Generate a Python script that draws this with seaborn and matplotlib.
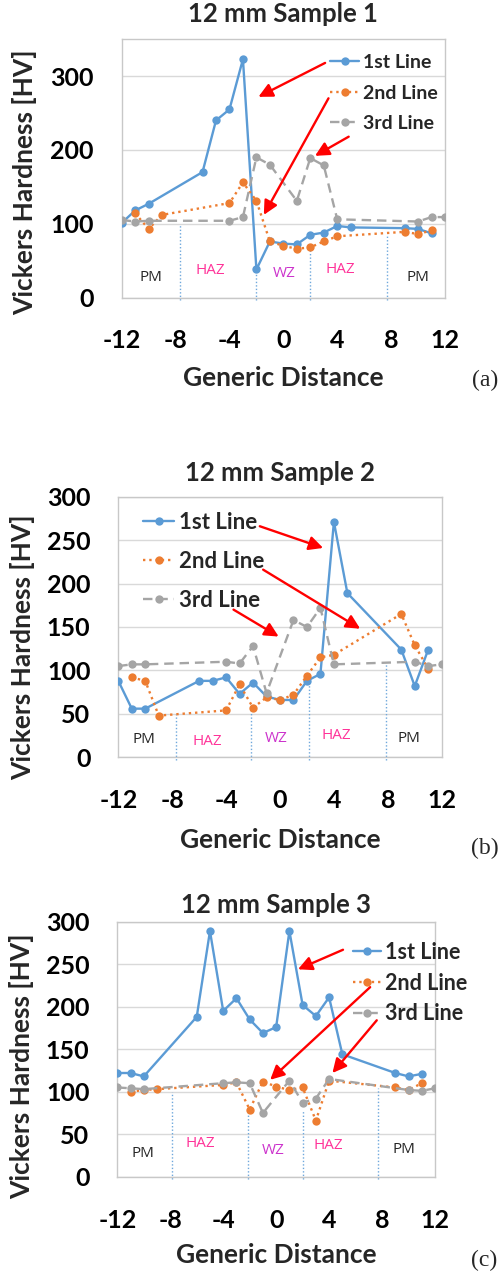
import matplotlib
matplotlib.use("Agg")
import matplotlib.pyplot as plt
import seaborn as sns
import pandas as pd

# ---------------- data ----------------
# Sample 1
a_x1 = [-12, -11, -10, -6, -5, -4, -3, -2, -1, 0, 1, 2, 3, 4, 5, 9, 10, 11]
a_hv1 = [101, 118, 127, 170, 240, 255, 323, 38, 76, 73, 72, 85, 88, 97, 95, 94, 93, 87]
a_x2 = [-11, -10, -9, -4, -3, -2, -1, 0, 1, 2, 3, 4, 9, 10, 11]
a_hv2 = [114, 93, 112, 128, 156, 131, 76, 70, 66, 68, 76, 83, 89, 86, 91]
a_x3 = [-12, -11, -10, -4, -3, -2, -1, 1, 2, 3, 4, 10, 11, 12]
a_hv3 = [105, 103, 104, 104, 109, 190, 180, 131, 189, 179, 106, 103, 109, 109]

# Sample 2
b_x1 = [-12, -11, -10, -6, -5, -4, -3, -2, -1, 0, 1, 2, 3, 4, 5, 9, 10, 11]
b_hv1 = [88, 56, 56, 88, 88, 92, 73, 86, 70, 66, 66, 88, 96, 271, 189, 124, 82, 124]
b_x2 = [-11, -10, -9, -4, -3, -2, -1, 0, 1, 2, 3, 4, 9, 10, 11]
b_hv2 = [92, 88, 48, 54, 84, 57, 69, 66, 72, 94, 115, 118, 165, 129, 102]
b_x3 = [-12, -11, -10, -4, -3, -2, -1, 1, 2, 3, 4, 10, 11, 12]
b_hv3 = [105, 107, 107, 110, 108, 128, 74, 158, 150, 172, 107, 110, 105, 107]

# Sample 3
c_x1 = [-12, -11, -10, -6, -5, -4, -3, -2, -1, 0, 1, 2, 3, 4, 5, 9, 10, 11]
c_hv1 = [122, 122, 118, 188, 289, 195, 210, 185, 169, 176, 289, 202, 189, 211, 144, 122, 118, 121]
c_x2 = [-11, -10, -9, -4, -3, -2, -1, 0, 1, 2, 3, 4, 9, 10, 11]
c_hv2 = [100, 102, 103, 108, 111, 79, 112, 106, 102, 105, 66, 113, 105, 102, 110]
c_x3 = [-12, -11, -10, -4, -3, -2, -1, 1, 2, 3, 4, 10, 11, 12]
c_hv3 = [105, 104, 103, 110, 111, 110, 75, 113, 87, 92, 115, 102, 101, 104]

series_names = ["1st Line", "2nd Line", "3rd Line"]
titles = ["12 mm Sample 1", "12 mm Sample 2", "12 mm Sample 3"]
panel_tags = ["(a)", "(b)", "(c)"]
x_ticks = [-12, -8, -4, 0, 4, 8, 12]
zone_names = ["PM", "HAZ", "WZ", "HAZ", "PM"]

# ---------------- styling ----------------
sns.set_theme(style="white")
plt.rcParams["font.family"] = ["Lato", "DejaVu Sans"]

BLUE, ORANGE, GRAY = "#5B9BD5", "#ED7D31", "#A5A5A5"
line_styles = [(BLUE, "-"), (ORANGE, ":"), (GRAY, (0, (4, 2.5)))]
zone_colors = ["#262626", "#FF3399", "#CC33CC", "#FF3399", "#262626"]

W, H = 499, 1277
fig = plt.figure(figsize=(W / 100, H / 100), dpi=100)


def px_axes(left, top, right, bottom):
    return fig.add_axes([left / W, 1 - bottom / H, (right - left) / W, (bottom - top) / H])


panels = [
    dict(box=(121.7, 39.3, 445, 297.5), ylim=350, ystep=100,
         data=[(a_x1, a_hv1), (a_x2, a_hv2), (a_x3, a_hv3)],
         sep_x=[-7.7, -2, 2, 7.7], sep_top=[100, 38, 64, 83],
         zone_pos=[(-9.8, 27), (-5.4, 37), (0.1, 33), (4.2, 38), (10.0, 27)],
         legend=dict(anchor=(330, 54), fs=14, spacing=0.7, hl=1.5),
         arrows=[((3.1, 318), (-1.85, 272)), ((3.35, 270), (-1.45, 112)), ((4.85, 218), (2.35, 192))],
         title_y=14, xlabel_y=378, ylabel=(25, 182), tag=(485, 380)),
    dict(box=(118.3, 496.7, 441.7, 757.3), ylim=300, ystep=50,
         data=[(b_x1, b_hv1), (b_x2, b_hv2), (b_x3, b_hv3)],
         sep_x=[-7.75, -2.15, 2.15, 7.85], sep_top=[50, 55, 83, 108],
         zone_pos=[(-10.1, 20), (-5.4, 18), (-0.25, 22), (4.2, 25), (9.6, 22)],
         legend=dict(anchor=(143, 512), fs=16, spacing=0.8, hl=1.4),
         arrows=[((-1.5, 266), (3.2, 241)), ((-1.25, 216), (5.95, 148)), ((-3.45, 170), (-0.1, 139))],
         title_y=473, xlabel_y=840, ylabel=(23, 647), tag=(485, 848)),
    dict(box=(117.3, 921.7, 435, 1176.7), ylim=300, ystep=50,
         data=[(c_x1, c_hv1), (c_x2, c_hv2), (c_x3, c_hv3)],
         sep_x=[-7.85, -2.15, 2.0, 7.7], sep_top=[100, 78, 78, 104],
         zone_pos=[(-10.1, 27), (-5.75, 39), (-0.2, 31), (3.95, 37), (9.65, 32)],
         legend=dict(anchor=(353, 942), fs=15.5, spacing=0.45, hl=1.3),
         arrows=[((5.05, 267), (1.65, 244)), ((7.1, 223), (-0.45, 114)), ((7.6, 184), (4.25, 122))],
         title_y=905, xlabel_y=1255, ylabel=(22, 1066), tag=(484, 1260)),
]

for i, p in enumerate(panels):
    L, T, R, B = p["box"]
    ax = px_axes(L, T, R, B)

    for (xs, ys), name, (col, ls) in zip(p["data"], series_names, line_styles):
        df = pd.DataFrame({"x": xs, "hv": ys})
        sns.lineplot(data=df, x="x", y="hv", ax=ax, color=col, linestyle=ls,
                     linewidth=1.7, marker="o", markersize=6, markeredgewidth=0,
                     label=name, zorder=3)

    # weld-zone separators
    for sx, st in zip(p["sep_x"], p["sep_top"]):
        ax.plot([sx, sx], [-3, st], color="#6FA8DC", linestyle=(0, (1, 1.5)),
                linewidth=1.0, clip_on=False, zorder=2)

    for (zx, zy), zn, zc in zip(p["zone_pos"], zone_names, zone_colors):
        ax.text(zx, zy, zn, color=zc, fontsize=11, ha="center", va="center",
                family=["Open Sans", "DejaVu Sans"])

    for start, end in p["arrows"]:
        ax.annotate("", xy=end, xytext=start,
                    arrowprops=dict(arrowstyle="-|>", color="#FF0000", lw=1.7,
                                    mutation_scale=21, shrinkA=0, shrinkB=0),
                    zorder=4)

    ax.set_xlim(-12, 12)
    ax.set_ylim(0, p["ylim"])
    ax.set_xticks(x_ticks)
    ax.set_yticks(range(0, p["ylim"] + 1, p["ystep"]))
    ax.set_xticklabels([str(t) for t in x_ticks], fontsize=18, fontweight="bold")
    ax.set_yticklabels([str(t) for t in range(0, p["ylim"] + 1, p["ystep"])],
                       fontsize=18, fontweight="bold")
    ax.tick_params(axis="x", pad=23, length=0, colors="black")
    ax.tick_params(axis="y", pad=20, length=0, colors="black")
    ax.set_xlabel("")
    ax.set_ylabel("")
    ax.yaxis.grid(True, color="#D9D9D9", linewidth=1.0)
    ax.xaxis.grid(False)
    for s in ax.spines.values():
        s.set_color("#C8C8C8")
        s.set_linewidth(1.0)

    lg = p["legend"]
    ax.legend(loc="upper left", bbox_to_anchor=(lg["anchor"][0] / W, 1 - lg["anchor"][1] / H),
              bbox_transform=fig.transFigure, frameon=False, borderpad=0,
              borderaxespad=0, handlelength=lg["hl"], handletextpad=0.2,
              labelspacing=lg["spacing"], numpoints=1,
              prop=dict(family="Lato", weight="bold", size=lg["fs"]))

    cx = (L + R) / 2
    fig.text(cx / W, 1 - p["title_y"] / H, titles[i], ha="center", va="center",
             fontsize=18.5, fontweight="bold")
    fig.text(cx / W, 1 - p["xlabel_y"] / H, "Generic Distance", ha="center",
             va="center", fontsize=19, fontweight="bold")
    fig.text(p["ylabel"][0] / W, 1 - p["ylabel"][1] / H, "Vickers Hardness [HV]",
             rotation=90, ha="center", va="center", fontsize=19, fontweight="bold")
    fig.text(p["tag"][0] / W, 1 - p["tag"][1] / H, panel_tags[i], ha="center",
             va="center", fontsize=17, family=["Liberation Serif", "DejaVu Serif"])

fig.savefig("out.png", dpi=100)
